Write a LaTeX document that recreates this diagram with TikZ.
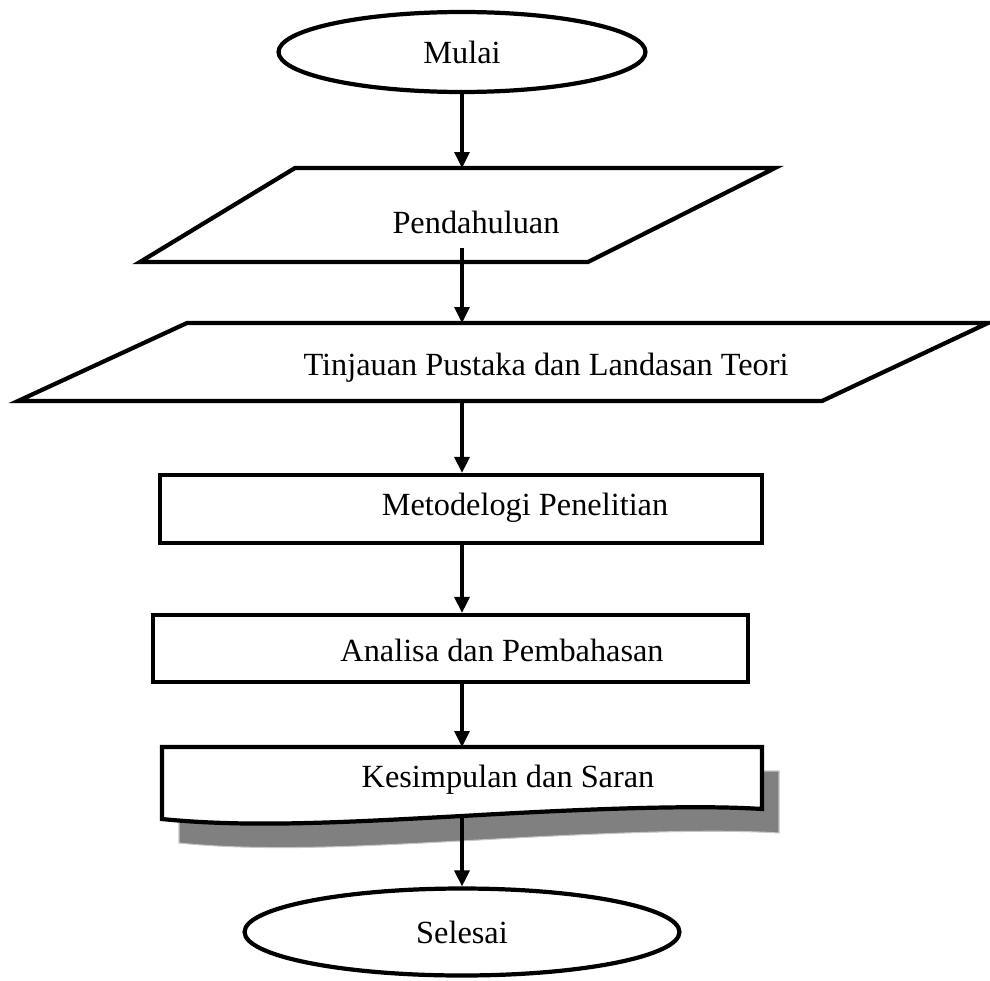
\documentclass[tikz,border=0pt]{standalone}
\usepackage{fontspec}
\setmainfont{Liberation Serif}
\usetikzlibrary{arrows.meta,shapes.geometric}

\begin{document}
\begin{tikzpicture}[x=0.02cm, y=-0.02cm,
        every node/.style={font=\fontsize{18.4}{22}\selectfont},
        outline/.style={draw=black, line width=2.4pt},
        terminal/.style={outline, ellipse, inner sep=0pt},
        process/.style={outline, rectangle, inner sep=0pt},
        flow/.style={line width=1.8pt, -{Triangle[length=0.32cm, width=0.3cm]}}]
        \useasboundingbox (0,0) rectangle (990,980);

        \node[terminal, minimum width=7.34cm, minimum height=1.6cm] (mulai) at (462,52) {Mulai};

        \draw[outline] (295,168) -- (775,168) -- (588,262) -- (140,262) -- cycle;
        \node (pend) at (476,222) {Pendahuluan};
        \coordinate (pendTop) at (462,168);
        \coordinate (pendOut) at (462,248);

        \draw[outline] (187,323) -- (988,323) -- (822,401) -- (18,401) -- cycle;
        \node (tinjauan) at (546,368) {Tinjauan Pustaka dan Landasan Teori};
        \coordinate (tinjTop) at (462,323);
        \coordinate (tinjBot) at (462,401);

        \node[process, minimum width=12.04cm, minimum height=1.36cm] (metode) at (461,509) {};
        \node at (525,508) {Metodelogi Penelitian};

        \node[process, minimum width=11.9cm, minimum height=1.34cm] (analisa) at (450.5,648.5) {};
        \node at (502,650) {Analisa dan Pembahasan};

        \filldraw[fill=gray, draw=gray!45, line width=0.6pt, shift={(17,24)}]
            (162,747) -- (762,747) -- (762,809)
            .. controls (700,805) and (600,808) .. (462,816)
            .. controls (350,822) and (250,828) .. (162,819) -- cycle;
        \filldraw[fill=white, outline]
            (162,747) -- (762,747) -- (762,809)
            .. controls (700,805) and (600,808) .. (462,816)
            .. controls (350,822) and (250,828) .. (162,819) -- cycle;
        \node (simpul) at (508,780) {Kesimpulan dan Saran};
        \coordinate (docTop) at (462,747);
        \coordinate (docOut) at (462,814);

        \node[terminal, minimum width=8.7cm, minimum height=1.74cm] (selesai) at (462,932) {Selesai};

        \draw[flow] (mulai.south) -- (pendTop);
        \draw[flow] (pendOut) -- (tinjTop);
        \draw[flow] (tinjBot) -- (metode.north -| tinjBot);
        \draw[flow] (metode.south -| tinjBot) -- (analisa.north -| tinjBot);
        \draw[flow] (analisa.south -| tinjBot) -- (docTop);
        \draw[flow] (docOut) -- (selesai.north);
\end{tikzpicture}
\end{document}
